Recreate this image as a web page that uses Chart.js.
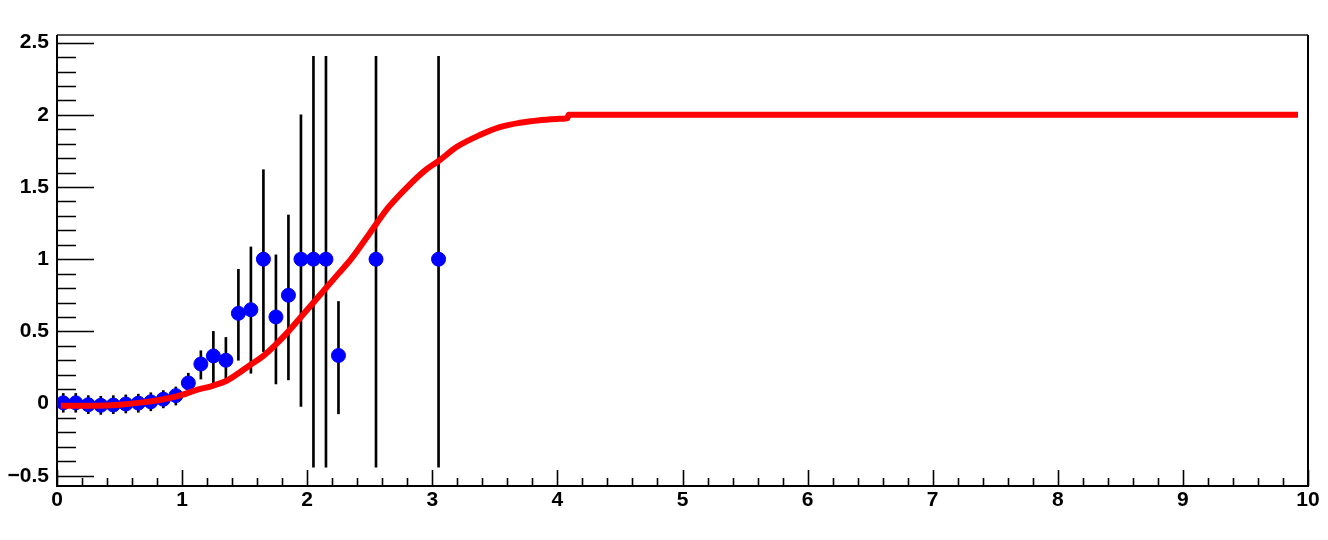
<!DOCTYPE html>
<html>
<head>
<meta charset="utf-8">
<script src="https://cdn.jsdelivr.net/npm/chart.js@4/dist/chart.umd.min.js"></script>
<style>
  html, body { margin: 0; padding: 0; background: #fff; }
  #wrap { width: 1328px; height: 540px; }
</style>
</head>
<body>
<div id="wrap"><canvas id="grafico" width="1328" height="540"></canvas></div>
<script>
// pontos medidos (centro do bin, valor, limites da barra de erro)
const binX = [0.05, 0.15, 0.25, 0.35, 0.45, 0.55, 0.65, 0.75, 0.85, 0.95,
              1.05, 1.15, 1.25, 1.35, 1.45, 1.55, 1.65, 1.75, 1.85, 1.95,
              2.05, 2.15, 2.25, 2.55, 3.05];
const binY = [0.005, 0.005, -0.008, -0.012, -0.01, -0.003, 0.003, 0.012, 0.03, 0.055,
              0.143, 0.274, 0.33, 0.30, 0.625, 0.65, 1.0, 0.6, 0.75, 1.0,
              1.0, 1.0, 0.333, 1.0, 1.0];
const errLo = [-0.06, -0.06, -0.07, -0.075, -0.07, -0.065, -0.06, -0.05, -0.03, -0.01,
               0.08, 0.17, 0.136, 0.159, 0.30, 0.21, 0.36, 0.136, 0.164, -0.02,
               -0.44, -0.44, -0.071, -0.44, -0.44];
const errHi = [0.07, 0.07, 0.055, 0.05, 0.055, 0.06, 0.065, 0.075, 0.09, 0.115,
               0.21, 0.366, 0.50, 0.458, 0.93, 1.085, 1.62, 1.03, 1.306, 2.0,
               2.405, 2.405, 0.707, 2.405, 2.405];

// curva ajustada (vermelha)
const fitX = [0.03, 0.3, 0.5, 0.7, 0.85, 1.0, 1.1, 1.25, 1.36, 1.45, 1.55, 1.65, 1.75, 1.85,
              1.95, 2.05, 2.15, 2.25, 2.35, 2.5, 2.65, 2.8, 2.95, 3.05, 3.2, 3.38, 3.54,
              3.7, 3.86, 4.0, 4.08, 4.09, 9.92];
const fitY = [-0.015, -0.015, -0.008, 0.01, 0.03, 0.06, 0.09, 0.125, 0.16, 0.21, 0.27, 0.33, 0.41, 0.50,
              0.60, 0.70, 0.80, 0.90, 1.0, 1.18, 1.36, 1.50, 1.62, 1.68, 1.78, 1.86, 1.915,
              1.945, 1.963, 1.972, 1.976, 2.0, 2.0];

// eixos
const xTicks = [0, 1, 2, 3, 4, 5, 6, 7, 8, 9, 10];
const xTickLabels = ['0', '1', '2', '3', '4', '5', '6', '7', '8', '9', '10'];
const yTicks = [-0.5, 0, 0.5, 1, 1.5, 2, 2.5];
const yTickLabels = ['\u22120.5', '0', '0.5', '1', '1.5', '2', '2.5'];
const xMin = 0, xMax = 10, yMin = -0.571, yMax = 2.553;
const xMinorStep = 0.2, yMinorStep = 0.1;

const fonte = { family: '"Liberation Sans", Arial, sans-serif', size: 21, weight: 'bold' };

// marcas de escala para dentro do quadro, estilo ROOT
const marcasRoot = {
  id: 'marcasRoot',
  beforeDatasetsDraw(chart) {
    const { ctx, chartArea: a, scales } = chart;
    const sx = scales.x, sy = scales.y;
    ctx.save();
    ctx.strokeStyle = '#000';
    ctx.lineWidth = 1.6;
    ctx.beginPath();
    for (let i = 0; i <= Math.round((xMax - xMin) / xMinorStep); i++) {
      const v = xMin + i * xMinorStep;
      const major = Math.abs(v - Math.round(v)) < 1e-6;
      const px = Math.round(sx.getPixelForValue(v)) + 0.5;
      ctx.moveTo(px, a.bottom);
      ctx.lineTo(px, a.bottom - (major ? 16 : 8));
    }
    for (let i = 0; i <= 30; i++) {
      const v = -0.5 + i * yMinorStep;
      const major = Math.abs(v * 2 - Math.round(v * 2)) < 1e-6;
      const py = Math.round(sy.getPixelForValue(v)) + 0.5;
      ctx.moveTo(a.left, py);
      ctx.lineTo(a.left + (major ? 37 : 19), py);
    }
    ctx.stroke();
    // moldura
    ctx.lineWidth = 2;
    ctx.strokeStyle = '#555';
    ctx.beginPath();
    ctx.moveTo(a.left, a.top);
    ctx.lineTo(a.right, a.top);
    ctx.stroke();
    ctx.strokeStyle = '#000';
    ctx.beginPath();
    ctx.moveTo(a.right, a.top);
    ctx.lineTo(a.right, a.bottom);
    ctx.lineTo(a.left, a.bottom);
    ctx.lineTo(a.left, a.top);
    ctx.stroke();
    ctx.restore();
  }
};

const ctx = document.getElementById('grafico').getContext('2d');
new Chart(ctx, {
  type: 'scatter',
  data: {
    datasets: [
      {
        type: 'line',
        label: 'ajuste',
        data: fitX.map((x, i) => ({ x, y: fitY[i] })),
        borderColor: '#ff0000',
        borderWidth: 6,
        pointRadius: 0,
        cubicInterpolationMode: 'monotone',
        showLine: true,
        fill: false,
        order: 0
      },
      {
        type: 'scatter',
        label: 'pontos',
        data: binX.map((x, i) => ({ x, y: binY[i] })),
        backgroundColor: '#0000ff',
        borderColor: '#0000ff',
        borderWidth: 1,
        pointRadius: 7,
        order: 1
      },
      {
        type: 'bar',
        label: 'erros',
        data: binX.map((x, i) => ({ x, y: [errLo[i], errHi[i]] })),
        backgroundColor: '#000',
        barThickness: 2,
        order: 2
      }
    ]
  },
  options: {
    responsive: false,
    animation: false,
    layout: { padding: { left: 0, right: 20, top: 35, bottom: 0 } },
    plugins: { legend: { display: false }, tooltip: { enabled: false } },
    scales: {
      x: {
        type: 'linear',
        min: xMin, max: xMax,
        offset: false,
        grid: { display: false, drawTicks: false },
        border: { display: false },
        afterBuildTicks: s => { s.ticks = xTicks.map(v => ({ value: v })); },
        afterFit: s => { s.height = 54; },
        ticks: {
          color: '#000', font: fonte, padding: 2, maxRotation: 0, autoSkip: false,
          callback: (v, i) => xTickLabels[i]
        }
      },
      y: {
        type: 'linear',
        min: yMin, max: yMax,
        grid: { display: false, drawTicks: false },
        border: { display: false },
        afterBuildTicks: s => { s.ticks = yTicks.map(v => ({ value: v })); },
        afterFit: s => { s.width = 57; },
        ticks: {
          color: '#000', font: fonte, padding: 8, autoSkip: false,
          callback: (v, i) => yTickLabels[i]
        }
      }
    }
  },
  plugins: [marcasRoot]
});
</script>
</body>
</html>
